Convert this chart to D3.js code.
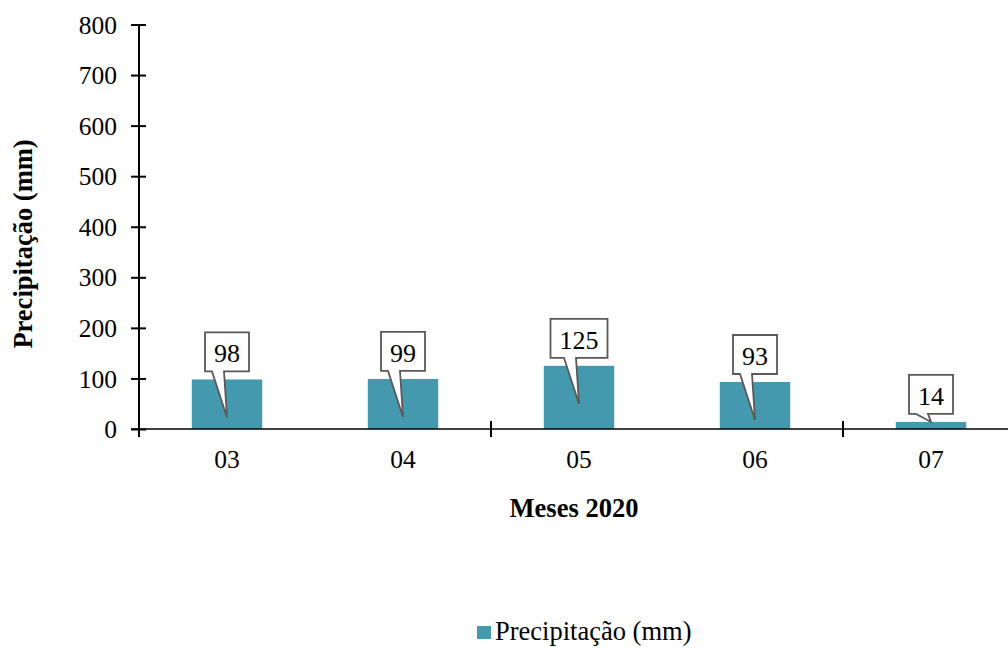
<!DOCTYPE html>
<html>
<head>
<meta charset="utf-8">
<script src="https://cdn.jsdelivr.net/npm/d3@7"></script>
<style>
  html, body { margin: 0; padding: 0; background: #fff; }
  svg, svg text { font-family: "Liberation Serif", "Times New Roman", serif; }
  svg { display: block; }
</style>
</head>
<body>
<svg id="chart" width="1008" height="648"></svg>
<script>
// Monthly precipitation, 2020
const months = ["03", "04", "05", "06", "07"];
const precipitation = [98, 99, 125, 93, 14];
const yTicks = [0, 100, 200, 300, 400, 500, 600, 700, 800];
const seriesName = "Precipitação (mm)";
const yTitle = "Precipitação (mm)";
const xTitle = "Meses 2020";

const svg = d3.select("#chart");
const barColor = "#4599AF";
const ink = "#000";
const serif = "'Liberation Serif', 'Times New Roman', serif";

const left = 139, baseY = 429, topY = 24.5, step = 176;

const x = d3.scaleBand()
  .domain(months)
  .range([left, left + step * months.length])
  .paddingInner(0.6)
  .paddingOuter(0.3);

const y = d3.scaleLinear().domain([0, 800]).range([baseY, topY]);

// bars
svg.append("g").selectAll("rect")
  .data(months.map((m, i) => ({ m, v: precipitation[i] })))
  .join("rect")
  .attr("x", d => x(d.m))
  .attr("width", x.bandwidth())
  .attr("y", d => y(d.v))
  .attr("height", d => y(0) - y(d.v))
  .attr("fill", barColor);

// y axis
const yAxis = svg.append("g")
  .attr("transform", `translate(${left},0)`)
  .call(d3.axisLeft(y).tickValues(yTicks).tickSize(8).tickPadding(14).tickFormat(d3.format("d")));
yAxis.attr("font-family", null).attr("font-size", null);
yAxis.select(".domain").remove();
yAxis.selectAll(".tick line").attr("x1", -8).attr("x2", 7).attr("stroke", ink).attr("stroke-width", 2);
yAxis.selectAll(".tick text")
  .style("font-family", serif)
  .style("font-size", "25.5px")
  .attr("fill", ink)
  .attr("dy", "0.34em");
svg.append("line")
  .attr("x1", left).attr("x2", left)
  .attr("y1", y(800)).attr("y2", baseY + 8)
  .attr("stroke", ink).attr("stroke-width", 2);

// x axis
const xAxis = svg.append("g")
  .attr("transform", `translate(0,${baseY})`)
  .call(d3.axisBottom(x).tickSize(0).tickPadding(21));
xAxis.attr("font-family", null).attr("font-size", null);
xAxis.select(".domain").remove();
xAxis.selectAll(".tick text")
  .style("font-family", serif)
  .style("font-size", "25.5px")
  .attr("fill", ink);
svg.append("line")
  .attr("x1", left - 8).attr("x2", 1008)
  .attr("y1", baseY).attr("y2", baseY)
  .attr("stroke", ink).attr("stroke-width", 1.6);

// tick marks between every second pair of categories
const boundaries = months.slice(1)
  .map(m => x(m) - x.step() * x.paddingInner() / 2)
  .filter((b, i) => i % 2 === 1);
svg.append("g").selectAll("line")
  .data(boundaries)
  .join("line")
  .attr("x1", d => d).attr("x2", d => d)
  .attr("y1", baseY - 8).attr("y2", baseY + 8)
  .attr("stroke", ink).attr("stroke-width", 2);

// data callouts
const callouts = svg.append("g");
months.forEach((m, i) => {
  const v = precipitation[i];
  const cx = x(m) + x.bandwidth() / 2;
  const top = y(v);
  const tipY = (top + 38 < y(0) - 5) ? top + 38 : top;
  const boxBottom = top - 8;
  const boxH = 39;
  const g = callouts.append("g");
  const t = g.append("text")
    .attr("x", cx)
    .attr("y", boxBottom - 9)
    .attr("text-anchor", "middle")
    .style("font-family", serif)
    .style("font-size", "26px")
    .attr("fill", ink)
    .text(d3.format("d")(v));
  const w = t.node().getComputedTextLength() + 18;
  const x0 = cx - w / 2, x1 = cx + w / 2, y0 = boxBottom - boxH;
  const path = d3.path();
  path.moveTo(x0, y0);
  path.lineTo(x1, y0);
  path.lineTo(x1, boxBottom);
  path.lineTo(cx - 3, boxBottom);
  path.lineTo(cx, tipY);
  path.lineTo(cx - 15, boxBottom);
  path.lineTo(x0, boxBottom);
  path.closePath();
  g.insert("path", "text")
    .attr("d", path.toString())
    .attr("fill", "#fff")
    .attr("stroke", "#595959")
    .attr("stroke-width", 1.8)
    .attr("stroke-linejoin", "miter");
});

// axis titles
svg.append("text")
  .attr("transform", `translate(32,244) rotate(-90)`)
  .attr("text-anchor", "middle")
  .style("font-family", serif)
  .style("font-size", "26.5px")
  .attr("font-weight", "bold")
  .attr("fill", ink)
  .text(yTitle);

svg.append("text")
  .attr("x", 574)
  .attr("y", 517)
  .attr("text-anchor", "middle")
  .style("font-family", serif)
  .style("font-size", "26.5px")
  .attr("font-weight", "bold")
  .attr("fill", ink)
  .text(xTitle);

// legend
const legend = svg.append("g").attr("transform", "translate(477,626)");
legend.append("rect").attr("width", 14).attr("height", 13).attr("fill", barColor);
legend.append("text")
  .attr("x", 18)
  .attr("y", 14)
  .style("font-family", serif)
  .style("font-size", "26.5px")
  .attr("fill", ink)
  .text(seriesName);
</script>
</body>
</html>
